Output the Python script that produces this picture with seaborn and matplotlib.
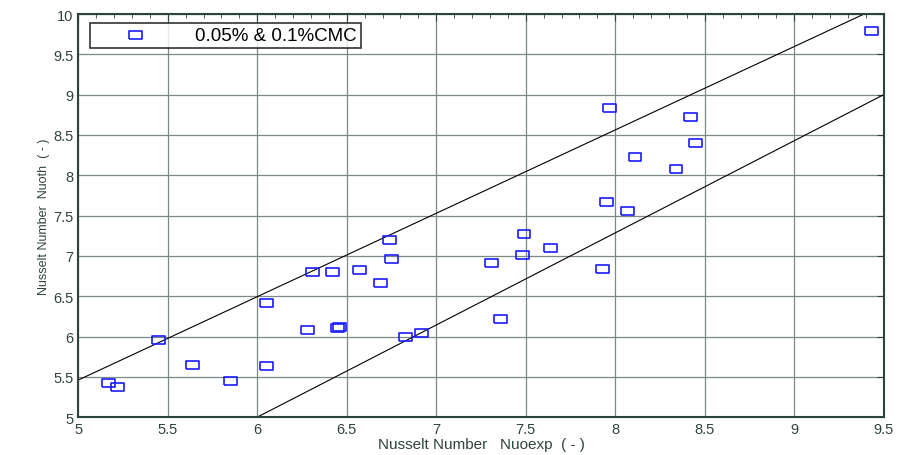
import numpy as np
import pandas as pd
import matplotlib
matplotlib.use('Agg')
import matplotlib.pyplot as plt
import seaborn as sns

# data
nu_exp = [5.17, 5.22, 5.45, 5.64, 5.85, 6.05, 6.05, 6.28, 6.31, 6.42, 6.45, 6.46,
          6.57, 6.69, 6.74, 6.75, 6.83, 6.92, 7.31, 7.36, 7.48, 7.49, 7.64, 7.93,
          7.95, 7.97, 8.07, 8.11, 8.34, 8.42, 8.45, 9.43]
nu_th = [5.42, 5.37, 5.96, 5.65, 5.45, 6.41, 5.63, 6.08, 6.80, 6.80, 6.11, 6.12,
         6.82, 6.67, 7.20, 6.96, 5.99, 6.04, 6.91, 6.22, 7.01, 7.27, 7.10, 6.84,
         7.67, 8.83, 7.56, 8.23, 8.08, 8.72, 8.40, 9.79]

# bounding lines (end points)
upper_x = [5.0, 9.39]
upper_y = [5.46, 10.0]
lower_x = [6.0, 9.5]
lower_y = [5.0, 9.0]

sns.set_style('white')
plt.rcParams['font.family'] = ['Liberation Sans', 'DejaVu Sans']

frame_col = '#2e4438'
grid_col = '#7d8a82'

fig = plt.figure(figsize=(8.99, 4.56), dpi=100)
ax = fig.add_axes([0.087, 0.083, 0.896, 0.884])

df = pd.DataFrame({'exp': nu_exp, 'th': nu_th})
rect = [(-1.6, -1), (1.6, -1), (1.6, 1), (-1.6, 1), (-1.6, -1)]
sns.scatterplot(data=df, x='exp', y='th', ax=ax, marker=rect, s=85,
                facecolor='none', edgecolor='#1a1aff', linewidth=1.2,
                label='0.05% & 0.1%CMC', zorder=3)
sns.lineplot(x=upper_x, y=upper_y, ax=ax, color='black', linewidth=0.8)
sns.lineplot(x=lower_x, y=lower_y, ax=ax, color='black', linewidth=0.8)

ax.set_xlim(5, 9.5)
ax.set_ylim(5, 10)
ax.set_xticks(np.arange(5, 9.51, 0.5))
ax.set_yticks(np.arange(5, 10.01, 0.5))
ax.set_xticklabels(['5', '5.5', '6', '6.5', '7', '7.5', '8', '8.5', '9', '9.5'])
ax.set_yticklabels(['5', '5.5', '6', '6.5', '7', '7.5', '8', '8.5', '9', '9.5', '10'])
ax.set_xticks(np.arange(5, 9.51, 0.1), minor=True)
ax.grid(True, which='major', color=grid_col, linewidth=0.9)
ax.tick_params(which='both', direction='in', top=True, right=True,
               color=frame_col, labelcolor=frame_col, labelsize=10.5)
ax.tick_params(which='major', length=5)
ax.tick_params(which='minor', length=3)
for s in ax.spines.values():
    s.set_color(frame_col)
    s.set_linewidth(1.5)

ax.set_xlabel('Nusselt Number   Nuoexp  ( - )', color=frame_col, fontsize=11, labelpad=1)
ax.set_ylabel('Nusselt Number  Nuoth  ( - )', color=frame_col, fontsize=9, labelpad=2)

leg = ax.legend(loc='upper left', bbox_to_anchor=(0.015, 0.978), frameon=True,
                fancybox=False, edgecolor='black', fontsize=13.5,
                handlelength=4.4, handletextpad=1.0, borderpad=0.2,
                borderaxespad=0)
leg.get_frame().set_linewidth(1.2)
for t in leg.get_texts():
    t.set_color('black')
leg.legend_handles[0].set_sizes([85])

fig.savefig('out.png', dpi=100)
